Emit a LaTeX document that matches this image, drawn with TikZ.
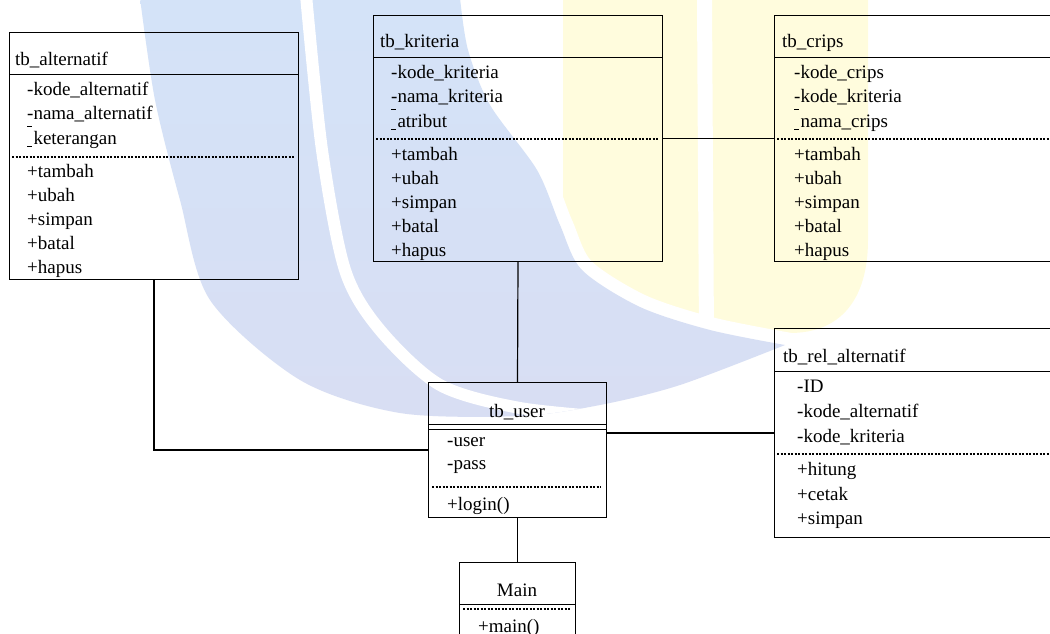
\documentclass[tikz,border=0pt]{standalone}
\usepackage{fontspec}
\setmainfont{Liberation Serif}
\definecolor{wmblue}{RGB}{212,227,248}
\definecolor{wmbluelow}{RGB}{216,222,243}
\definecolor{wmyellow}{RGB}{255,252,221}
\newcommand{\umlodd}{\makebox[0.333em][l]{\rule[0.88em]{0.26em}{0.08em}\hspace{-0.26em}\rule[-0.17em]{0.26em}{0.08em}}}
\begin{document}
\begin{tikzpicture}[x=1pt,y=-1pt,
  box/.style={draw=black, line width=1pt, rectangle, inner sep=0pt, anchor=north west},
  txt/.style={inner sep=0pt, anchor=base west, font=\fontsize{19}{22}\selectfont},
  ctxt/.style={inner sep=0pt, anchor=base, font=\fontsize{19}{22}\selectfont},
  sep/.style={line width=1pt},
  dsep/.style={line width=1.1pt, dash pattern=on 2.4pt off 1.1pt},
  conn/.style={line width=1.2pt}]
\useasboundingbox (0,0) rectangle (1050,633);
% ---------- watermark ----------
\fill[wmyellow] (563,0) -- (868,0) -- (868,240) .. controls (868,300) and (840,333) .. (790,333) -- (563,333) -- cycle;
\fill[white] (697,0) -- (712,0) -- (714,340) -- (699,340) -- cycle;
\path[top color=wmblue, bottom color=wmbluelow, preaction={draw=white, line width=26pt}]
  plot[smooth] coordinates {(140,-2) (155,100) (180,200) (210,300) (300,380) (400,413) (520,416) (600,405) (680,385) (785,345)}
  -- plot[smooth] coordinates {(785,345) (710,330) (640,307) (582,270) (560,225) (537,170) (490,105) (468,50) (460,-2)} -- cycle;
\begin{scope}
\clip plot[smooth] coordinates {(140,-2) (155,100) (180,200) (210,300) (300,380) (400,413) (520,416) (600,405) (680,385) (785,345)}
  -- plot[smooth] coordinates {(785,345) (710,330) (640,307) (582,270) (560,225) (537,170) (490,105) (468,50) (460,-2)} -- cycle;
\draw[white, line width=12pt] plot[smooth] coordinates {(306,-5) (322,150) (345,270) (380,330) (440,385) (520,408) (620,418)};
\end{scope}
% ---------- tb_alternatif ----------
\node[box, minimum width=289pt, minimum height=247pt] (alt) at (9,32) {};
\node[txt] (altT) at (15,65) {tb\_alternatif};
\draw[sep] (9,74) -- (298,74);
\node[txt] (alt1) at (27,95) {-kode\_alternatif};
\node[txt] (alt2) at (27,119) {-nama\_alternatif};
\node[txt] (alt3) at (27,144) {\umlodd keterangan};
\draw[dsep] (12,157) -- (294,157);
\node[txt] (alt4) at (27,177) {+tambah};
\node[txt] (alt5) at (27,201) {+ubah};
\node[txt] (alt6) at (27,225) {+simpan};
\node[txt] (alt7) at (27,249) {+batal};
\node[txt] (alt8) at (27,273) {+hapus};
% ---------- tb_kriteria ----------
\node[box, minimum width=289pt, minimum height=246pt] (krit) at (373,15) {};
\node[txt] (kritT) at (380,47) {tb\_kriteria};
\draw[sep] (373,57) -- (662,57);
\node[txt] (krit1) at (391,78) {-kode\_kriteria};
\node[txt] (krit2) at (391,102) {-nama\_kriteria};
\node[txt] (krit3) at (391,127) {\umlodd atribut};
\draw[dsep] (376,139) -- (658,139);
\node[txt] (krit4) at (391,160) {+tambah};
\node[txt] (krit5) at (391,184) {+ubah};
\node[txt] (krit6) at (391,208) {+simpan};
\node[txt] (krit7) at (391,232) {+batal};
\node[txt] (krit8) at (391,256) {+hapus};
% ---------- tb_crips ----------
\node[box, minimum width=310pt, minimum height=246pt] (crips) at (774,15) {};
\node[txt] (cripsT) at (782,47) {tb\_crips};
\draw[sep] (774,57) -- (1084,57);
\node[txt] (crips1) at (794,78) {-kode\_crips};
\node[txt] (crips2) at (794,102) {-kode\_kriteria};
\node[txt] (crips3) at (794,127) {\umlodd nama\_crips};
\draw[dsep] (777,139) -- (1080,139);
\node[txt] (crips4) at (794,160) {+tambah};
\node[txt] (crips5) at (794,184) {+ubah};
\node[txt] (crips6) at (794,208) {+simpan};
\node[txt] (crips7) at (794,232) {+batal};
\node[txt] (crips8) at (794,256) {+hapus};
% ---------- tb_rel_alternatif ----------
\node[box, minimum width=310pt, minimum height=209pt] (rel) at (774,328) {};
\node[txt] (relT) at (783,362) {tb\_rel\_alternatif};
\draw[sep] (774,371) -- (1084,371);
\node[txt] (rel1) at (797,392) {-ID};
\node[txt] (rel2) at (797,417) {-kode\_alternatif};
\node[txt] (rel3) at (797,442) {-kode\_kriteria};
\draw[dsep] (777,454) -- (1080,454);
\node[txt] (rel4) at (797,475) {+hitung};
\node[txt] (rel5) at (797,500) {+cetak};
\node[txt] (rel6) at (797,524) {+simpan};
% ---------- tb_user ----------
\node[box, minimum width=178pt, minimum height=135pt] (user) at (428,382) {};
\node[ctxt] (userT) at (517,417) {tb\_user};
\draw[sep] (428,424) -- (606,424);
\draw[sep] (428,429) -- (606,429);
\node[txt] (user1) at (447,446) {-user};
\node[txt] (user2) at (447,469) {-pass};
\draw[dsep] (432,487) -- (601,487);
\node[txt] (user3) at (447,510) {+login()};
% ---------- Main ----------
\node[box, minimum width=116pt, minimum height=83pt] (main) at (459,562) {};
\node[ctxt] (mainT) at (517,596) {Main};
\draw[sep] (459,604) -- (575,604);
\draw[dsep] (463,609) -- (571,609);
\node[txt] (main1) at (478,632) {+main()};
% ---------- connectors ----------
\draw[conn] (alt.south) |- (user.west);
\draw[conn] (krit.south) -- (user.north);
\draw[conn] (krit.east) -- (crips.west);
\draw[conn] (user.east |- rel.west) -- (rel.west);
\draw[conn] (user.south) -- (main.north);
\end{tikzpicture}
\end{document}
